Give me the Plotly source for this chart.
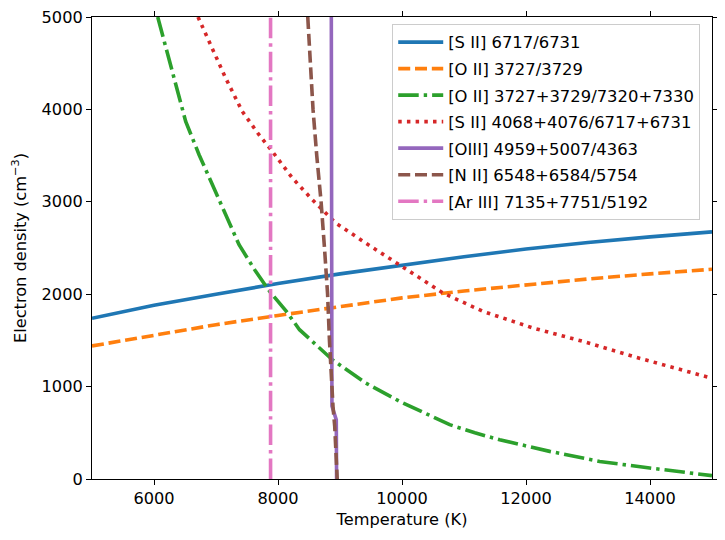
import plotly.graph_objects as go

# ---- data ----
temp_smooth = [5000, 6000, 7000, 8000, 9000, 10000, 11000, 12000, 13000, 14000, 15000]
ne_sii_6717_6731 = [1740, 1880, 2000, 2115, 2220, 2315, 2405, 2490, 2560, 2620, 2675]
ne_oii_3727_3729 = [1440, 1560, 1670, 1770, 1865, 1960, 2035, 2100, 2165, 2220, 2270]

temp_oii_aur = [6060, 6242, 6511, 6727, 6942, 7157, 7372, 7640, 7866, 8135, 8347,
                8876, 9414, 9963, 10400, 10769, 11175, 11575, 12382, 13188, 13995, 15000]
ne_oii_aur = [5000, 4553, 3870, 3510, 3185, 2860, 2535, 2247, 2030, 1814, 1616,
              1291, 1039, 840, 705, 588, 500, 425, 299, 190, 119, 36]

temp_sii_aur = [6710, 6940, 7155, 7424, 7693, 7908, 8231, 8553, 8930, 9414, 9963,
                10661, 11306, 12113, 12919, 13725, 15000]
ne_sii_aur = [5000, 4665, 4340, 3978, 3726, 3545, 3258, 3023, 2771, 2554, 2319,
              2013, 1814, 1634, 1489, 1327, 1090]

temp_oiii = [8860, 8870, 8940, 8945]
ne_oiii = [5000, 790, 640, 0]

temp_nii = [8480, 8520, 8565, 8625, 8695, 8750, 8800, 8830, 8860, 8887, 8915, 8955]
ne_nii = [5000, 4500, 4000, 3500, 3000, 2500, 2000, 1500, 1000, 786, 569, 0]

temp_ariii = [7880, 7880]
ne_ariii = [0, 5000]

names = ["[S II] 6717/6731", "[O II] 3727/3729", "[O II] 3727+3729/7320+7330",
         "[S II] 4068+4076/6717+6731", "[OIII] 4959+5007/4363",
         "[N II] 6548+6584/5754", "[Ar III] 7135+7751/5192"]

xticks = [6000, 8000, 10000, 12000, 14000]
yticks = [0, 1000, 2000, 3000, 4000, 5000]

# ---- styling ----
lw = 3.6
colors = ["#1f77b4", "#ff7f0e", "#2ca02c", "#d62728", "#9467bd", "#8c564b", "#e377c2"]
dashed = "12px,4.8px"
dashdot = "20.5px,5px,3.4px,5px"
dotted = "3.5px,5.2px"

series = [
    (temp_smooth, ne_sii_6717_6731, "solid"),
    (temp_smooth, ne_oii_3727_3729, dashed),
    (temp_oii_aur, ne_oii_aur, dashdot),
    (temp_sii_aur, ne_sii_aur, dotted),
    (temp_oiii, ne_oiii, "solid"),
    (temp_nii, ne_nii, dashed),
    (temp_ariii, ne_ariii, dashdot),
]

fig = go.Figure()
for i, ((x, y, dash), name) in enumerate(zip(series, names)):
    fig.add_trace(go.Scatter(x=x, y=y, mode="lines", name=name,
                             legendgroup=f"g{i}",
                             line=dict(color=colors[i], width=lw, dash=dash)))

font = dict(family="DejaVu Sans", size=16.2, color="black")
legend_font = dict(family="DejaVu Sans", size=16.4, color="black")
axis_common = dict(showline=True, linecolor="black", linewidth=1, mirror="ticks",
                   ticks="outside", ticklen=5, tickwidth=1, tickcolor="black",
                   showgrid=False, zeroline=False, automargin=False,
                   ticklabeloverflow="allow", tickfont=font)

# page body has an 8px default margin, so the figure is sized to fit the window
fig.update_layout(
    width=717, height=532,
    margin=dict(l=84, r=13, t=9, b=61),
    paper_bgcolor="white", plot_bgcolor="white",
    font=font,
    xaxis=dict(range=[5000, 15000], tickvals=xticks, tickformat="d",
               title=dict(text="Temperature (K)", font=font, standoff=6), **axis_common),
    yaxis=dict(range=[0, 5000], tickvals=yticks, tickformat="d",
               title=dict(text="Electron density (cm<sup>−3</sup>)", font=font, standoff=12),
               **axis_common),
    legend=dict(x=0.981, y=0.985, xanchor="right", yanchor="top",
                bgcolor="rgba(255,255,255,0.8)", bordercolor="#cccccc", borderwidth=1,
                font=legend_font, tracegroupgap=2.2, traceorder="grouped", itemwidth=45),
    showlegend=True,
)

fig.write_html("out.html")
